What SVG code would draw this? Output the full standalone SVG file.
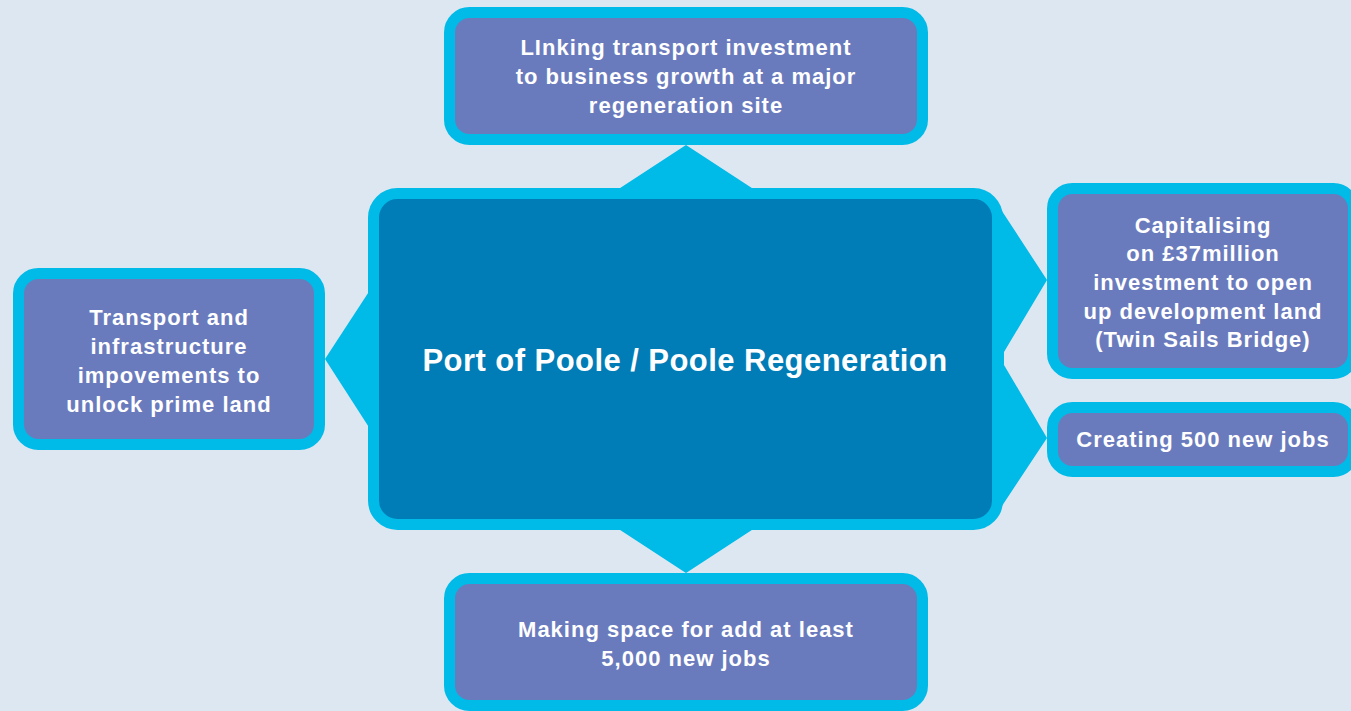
<svg xmlns="http://www.w3.org/2000/svg" width="1351" height="711" viewBox="0 0 1351 711">
<style>
.bg{fill:#dde7f2}
.conn{fill:#00bae7}
.box{fill:#6a7bbd;stroke:#00bae7;stroke-width:11}
.main{fill:#007cb7;stroke:#00bae7;stroke-width:11}
.t{font-family:"Liberation Sans",Arial,sans-serif;font-weight:bold;fill:#ffffff;text-anchor:middle;font-size:22px;letter-spacing:1px}
.tm{font-family:"Liberation Sans",Arial,sans-serif;font-weight:bold;fill:#ffffff;text-anchor:middle;font-size:31px;letter-spacing:0.45px}
</style>
<rect class="bg" x="0" y="0" width="1351" height="711"/>
<g id="connectors">
<polygon class="conn" points="614,192 686,145 758,192"/>
<polygon class="conn" points="614,526 686,573 758,526"/>
<polygon class="conn" points="372,287 325,359 372,432"/>
<polygon class="conn" points="998,205 1047,280 1004,352 1004,365 1047,438 998,512"/>
</g>
<g id="center">
<rect class="main" x="373.5" y="193.5" width="624" height="331" rx="24"/>
<text class="tm" x="685" y="371">Port of Poole / Poole Regeneration</text>
</g>
<g id="top">
<rect class="box" x="449.5" y="12.5" width="473" height="127" rx="20"/>
<text class="t" x="686" y="55">LInking transport investment</text>
<text class="t" x="686" y="84">to business growth at a major</text>
<text class="t" x="686" y="113">regeneration site</text>
</g>
<g id="left">
<rect class="box" x="18.5" y="273.5" width="301" height="171" rx="20"/>
<text class="t" x="169" y="325">Transport and</text>
<text class="t" x="169" y="354">infrastructure</text>
<text class="t" x="169" y="383">impovements to</text>
<text class="t" x="169" y="412">unlock prime land</text>
</g>
<g id="right-top">
<rect class="box" x="1052.5" y="188.5" width="301" height="185" rx="20"/>
<text class="t" x="1203" y="233">Capitalising</text>
<text class="t" x="1203" y="261">on £37million</text>
<text class="t" x="1203" y="290">investment to open</text>
<text class="t" x="1203" y="319">up development land</text>
<text class="t" x="1203" y="347">(Twin Sails Bridge)</text>
</g>
<g id="right-bottom">
<rect class="box" x="1052.5" y="407.5" width="301" height="64" rx="20"/>
<text class="t" x="1203" y="447">Creating 500 new jobs</text>
</g>
<g id="bottom">
<rect class="box" x="449.5" y="578.5" width="473" height="127" rx="20"/>
<text class="t" x="686" y="637">Making space for add at least</text>
<text class="t" x="686" y="666">5,000 new jobs</text>
</g>
</svg>
